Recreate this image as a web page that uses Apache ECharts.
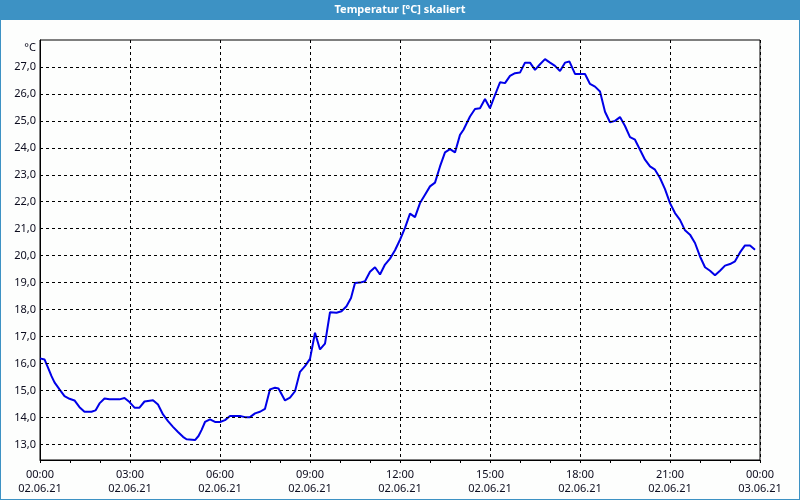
<!DOCTYPE html>
<html>
<head>
<meta charset="utf-8">
<script src="https://cdn.jsdelivr.net/npm/echarts@6/dist/echarts.min.js"></script>
<style>
html,body{margin:0;padding:0;background:#fdfefd;}
#c{width:800px;height:500px;}
</style>
</head>
<body>
<div id="c"></div>
<script>
// time in minutes after 02.06.21 00:00
const minutes = [0,9,16,23,29,39,49,59,69,79,89,103,111,119,129,139,159,169,179,189,199,209,226,236,246,256,266,276,286,293,
310,317,323,330,340,350,360,370,380,400,410,420,430,440,450,460,470,477,490,500,510,520,530,540,550,560,570,580,
593,603,613,622,630,640,650,660,670,680,690,700,710,720,730,740,750,760,770,780,790,800,810,820,830,840,847,
860,870,880,890,900,910,920,930,940,950,960,970,980,990,1000,1010,1020,1030,1040,1050,1059,1070,1090,1100,1110,1120,1130,1140,1150,
1160,1170,1180,1190,1200,1210,1220,1230,1240,1250,1260,1270,1280,1290,1300,1310,1320,1330,1340,1350,1360,1370,1380,1390,1400,1410,1420,1430];
const temps = [16.19,16.15,15.85,15.53,15.30,15.04,14.79,14.69,14.63,14.38,14.21,14.21,14.26,14.52,14.70,14.67,14.67,14.72,14.57,14.36,14.36,14.59,14.64,14.48,14.11,13.86,13.65,13.46,13.28,13.19,
13.16,13.31,13.53,13.83,13.93,13.83,13.83,13.90,14.05,14.05,14.01,14.01,14.15,14.21,14.32,15.04,15.10,15.07,14.63,14.73,14.97,15.69,15.90,16.17,17.14,16.52,16.74,17.90,
17.88,17.94,18.12,18.43,18.99,19.00,19.05,19.40,19.57,19.30,19.67,19.89,20.20,20.59,21.03,21.56,21.43,21.95,22.26,22.57,22.71,23.31,23.83,23.95,23.83,24.48,24.67,
25.16,25.44,25.47,25.81,25.47,25.96,26.43,26.40,26.67,26.77,26.79,27.16,27.16,26.89,27.10,27.29,27.16,27.04,26.85,27.16,27.20,26.74,26.74,26.37,26.27,26.09,25.34,24.95,25.00,
25.14,24.81,24.40,24.30,23.93,23.56,23.31,23.19,22.88,22.47,21.95,21.58,21.33,20.94,20.78,20.47,19.97,19.57,19.44,19.27,19.44,19.63,19.69,19.79,20.12,20.38,20.38,20.22];
const yTicks = [13,14,15,16,17,18,19,20,21,22,23,24,25,26,27];
const xTickMinutes = [0,180,360,540,720,900,1080,1260,1440];
const dayLabels = ['02.06.21','03.06.21'];
const titleText = 'Temperatur [°C] skaliert';
const unitText = '°C';

const FONT = 'Noto Sans';
const TXT = '#0c0c1e';
const frameBlue = '#3d92c4';

const points = minutes.map((m, i) => [m, temps[i]]);

const chart = echarts.init(document.getElementById('c'), null, {renderer: 'canvas'});
chart.setOption({
  animation: false,
  backgroundColor: '#fdfefd',
  title: {
    text: titleText,
    left: 'center',
    top: 3,
    padding: 0,
    textStyle: {color: '#ffffff', fontFamily: FONT, fontSize: 11, fontWeight: 'bold', lineHeight: 14}
  },
  graphic: [
    {type: 'rect', left: 0, top: 0, shape: {width: 800, height: 20}, style: {fill: frameBlue}, z: -1},
    {type: 'rect', left: 0, top: 0, shape: {width: 1, height: 500}, style: {fill: frameBlue}},
    {type: 'rect', right: 0, top: 0, shape: {width: 1, height: 500}, style: {fill: frameBlue}},
    {type: 'rect', left: 0, bottom: 0, shape: {width: 800, height: 1}, style: {fill: frameBlue}}
  ],
  grid: {left: 40, right: 40, top: 40, bottom: 40, show: true, borderColor: '#000', borderWidth: 1, backgroundColor: 'transparent'},
  xAxis: {
    type: 'value',
    min: xTickMinutes[0],
    max: xTickMinutes[xTickMinutes.length - 1],
    interval: 180,
    axisLine: {show: true, lineStyle: {color: '#000', width: 1}},
    axisTick: {show: true, length: 3, lineStyle: {color: '#000'}},
    minorTick: {show: true, splitNumber: 3, length: 3, lineStyle: {color: '#000'}},
    splitLine: {show: true, lineStyle: {color: '#000', width: 1, type: [3, 3]}},
    axisLabel: {
      margin: 8,
      fontFamily: FONT, fontSize: 11, color: TXT, lineHeight: 14,
      formatter: function (v) {
        const h = Math.floor(v / 60) % 24;
        const mm = v % 60;
        const day = v >= 1440 ? dayLabels[1] : dayLabels[0];
        return String(h).padStart(2, '0') + ':' + String(mm).padStart(2, '0') + '\n' + day;
      }
    }
  },
  yAxis: {
    type: 'value',
    min: 12.42,
    max: 28.0,
    name: unitText,
    nameLocation: 'end',
    nameGap: -2,
    nameTextStyle: {fontFamily: FONT, fontSize: 11, color: TXT, align: 'right', verticalAlign: 'top', padding: [0, 4, 0, 0]},
    axisLine: {show: true, lineStyle: {color: '#000', width: 1}},
    axisTick: {show: false},
    axisLabel: {show: false},
    splitLine: {show: false}
  },
  series: [
    {
      type: 'line',
      data: points,
      symbol: 'none',
      silent: true,
      z: 1,
      lineStyle: {opacity: 0},
      markLine: {
        silent: true,
        symbol: ['none', 'none'],
        animation: false,
        lineStyle: {color: '#000', width: 1, type: [3, 3]},
        label: {
          show: true, position: 'start', distance: 4,
          fontFamily: FONT, fontSize: 11, color: TXT,
          formatter: p => p.value.toFixed(1).replace('.', ',')
        },
        data: yTicks.map(v => ({yAxis: v}))
      }
    },
    {
      type: 'line',
      data: points,
      symbol: 'none',
      z: 3,
      lineStyle: {color: '#0000e8', width: 2}
    }
  ]
});
</script>
</body>
</html>
